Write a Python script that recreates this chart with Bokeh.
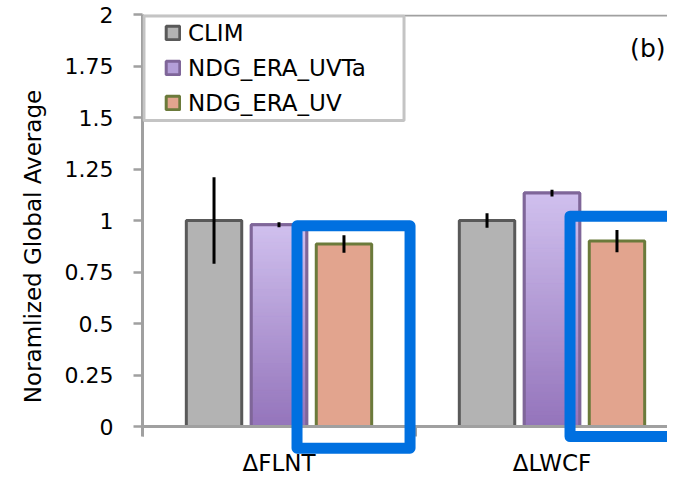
import numpy as np
from bokeh.plotting import figure
from bokeh.models import (FixedTicker, Legend, LegendItem, Label, BoxAnnotation,
                          Span, Range1d)
from bokeh.embed import file_html
from bokeh.resources import INLINE

# ---------------- data ----------------
categories = ["ΔFLNT", "ΔLWCF"]
series = ["CLIM", "NDG_ERA_UVTa", "NDG_ERA_UV"]
clim = [1.0, 1.0]
clim_err = [0.21, 0.035]
uvta = [0.979, 1.133]
uvta_err = [0.012, 0.016]
uv = [0.886, 0.900]
uv_err = [0.042, 0.054]
y_ticks = [0, 0.25, 0.5, 0.75, 1, 1.25, 1.5, 1.75, 2]
y_tick_labels = ["0", "0.25", "0.5", "0.75", "1", "1.25", "1.5", "1.75", "2"]
y_title = "Noramlized Global Average"
panel_label = "(b)"
highlight_series = 2          # NDG_ERA_UV bars are boxed
highlight_top_pad = [0.088, 0.121]
highlight_bottom = [-0.105, -0.049]

# ---------------- style / layout ----------------
FONT = "DejaVu Sans"
W, H = 667, 478
LEFT, TOP = 142, 14
PX_X = 273.0          # pixels per category
PX_Y = 206.0          # pixels per y unit
offsets = [-0.238, 0.0, 0.238]
bw = 0.203
gray_fill, gray_line = "#b3b3b3", "#595959"
pur_top, pur_bot, pur_line = "#d0c0ee", "#9474bb", "#7f6699"
sal_fill, sal_line = "#e2a48e", "#6b7a3b"
axis_col = "#a0a0a0"
blue = "#0070e0"

x_end = -0.5 + (W - LEFT) / PX_X
y_start = 2 - (H - TOP) / PX_Y
tick_len = 10 / PX_Y

p = figure(width=W, height=H, x_range=Range1d(-0.5, x_end), y_range=Range1d(y_start, 2),
           output_backend="svg", toolbar_location=None, x_axis_location=None,
           min_border_left=LEFT, min_border_right=0, min_border_top=TOP, min_border_bottom=0)
p.xgrid.visible = False
p.ygrid.visible = False
p.outline_line_color = None
p.background_fill_color = "white"
p.border_fill_color = "white"

cat_x = np.arange(len(categories), dtype=float)

# y axis
p.yaxis.ticker = FixedTicker(ticks=y_ticks)
p.yaxis.major_label_overrides = {t: l for t, l in zip(y_ticks, y_tick_labels)}
p.yaxis.bounds = (-tick_len, 2)
p.yaxis.axis_line_color = axis_col
p.yaxis.axis_line_width = 3
p.yaxis.major_tick_line_color = axis_col
p.yaxis.major_tick_line_width = 2.5
p.yaxis.major_tick_out = 9
p.yaxis.major_tick_in = 0
p.yaxis.minor_tick_line_color = None
p.yaxis.major_label_text_font = FONT
p.yaxis.major_label_text_font_size = "22px"
p.yaxis.major_label_text_color = "#000000"
p.yaxis.major_label_standoff = 20
p.yaxis.axis_label = y_title
p.yaxis.axis_label_text_font = FONT
p.yaxis.axis_label_text_font_size = "23px"
p.yaxis.axis_label_text_font_style = "normal"
p.yaxis.axis_label_text_color = "#000000"
p.yaxis.axis_label_standoff = 16

# x axis (baseline at y = 0, boundary ticks, category labels)
p.add_layout(Span(location=0, dimension="width", line_color=axis_col, line_width=3))
bounds_x = np.arange(len(categories) + 1) - 0.5
p.segment(x0=bounds_x, y0=np.zeros_like(bounds_x), x1=bounds_x,
          y1=np.full_like(bounds_x, -tick_len), line_color=axis_col, line_width=3)
for xc, c in zip(cat_x, categories):
    p.add_layout(Label(x=xc, y=-36.4 / PX_Y, text=c, text_align="center",
                       text_baseline="middle", text_font=FONT, text_font_size="23px",
                       text_color="#000000"))

# bars
x_clim = cat_x + offsets[0]
x_uvta = cat_x + offsets[1]
x_uv = cat_x + offsets[2]

r_clim = p.vbar(x=x_clim, top=clim, width=bw, bottom=0, fill_color=gray_fill,
                line_color=gray_line, line_width=3)
r_uvta = p.vbar(x=x_uvta, top=uvta, width=bw, bottom=0, fill_color="#b49fd8",
                line_color=pur_line, line_width=3)


def hex2rgb(h):
    h = h.lstrip("#")
    return np.array([int(h[i:i + 2], 16) for i in (0, 2, 4)], dtype=float)


c0, c1 = hex2rgb(pur_bot), hex2rgb(pur_top)
N = 60
sl, sr, sb, st, sc = [], [], [], [], []
for xc, top in zip(x_uvta, uvta):
    for k in range(N):
        f = (k + 0.5) / N
        c = c0 + (c1 - c0) * f
        sl.append(xc - bw / 2)
        sr.append(xc + bw / 2)
        sb.append(top * k / N)
        st.append(top * (k + 1) / N)
        sc.append("#%02x%02x%02x" % tuple(int(round(v)) for v in c))
p.quad(left=sl, right=sr, bottom=sb, top=st, fill_color=sc, line_color=sc, line_width=1)
p.vbar(x=x_uvta, top=uvta, width=bw, bottom=0, fill_color=None,
       line_color=pur_line, line_width=3)

r_uv = p.vbar(x=x_uv, top=uv, width=bw, bottom=0, fill_color=sal_fill,
              line_color=sal_line, line_width=3)

# error bars
for xs, vals, errs in ((x_clim, clim, clim_err), (x_uvta, uvta, uvta_err), (x_uv, uv, uv_err)):
    v = np.array(vals)
    e = np.array(errs)
    p.segment(x0=xs, y0=v - e, x1=xs, y1=v + e, line_color="black", line_width=3)

# top frame line
p.add_layout(Span(location=2 - 1.0 / PX_Y, dimension="width", line_color=axis_col, line_width=2))

# legend box
p.add_layout(BoxAnnotation(left=-0.4945, right=0.458, top=2 - 1.5 / PX_Y, bottom=1.485,
                           fill_color="white", fill_alpha=1.0,
                           line_color="#c4c4c4", line_alpha=1.0, line_width=3))

legend = Legend(items=[LegendItem(label=s, renderers=[r]) for s, r in
                       zip(series, [r_clim, r_uvta, r_uv])],
                location=(22, 358), padding=0, spacing=0, margin=0,
                label_height=35, glyph_width=17, glyph_height=17, label_standoff=7,
                border_line_color=None, background_fill_alpha=0,
                label_text_font=FONT, label_text_font_size="23px",
                label_text_color="#000000")
p.add_layout(legend)

# highlight boxes around the NDG_ERA_UV bars
hx = cat_x + offsets[highlight_series]
for i, (xc, top) in enumerate(zip(hx, uv)):
    p.add_layout(BoxAnnotation(left=xc - 0.172, right=xc + 0.242,
                               top=top + highlight_top_pad[i], bottom=highlight_bottom[i],
                               fill_color=None, fill_alpha=0, line_color=blue,
                               line_alpha=1.0, line_width=11, line_join="round"))

# panel label
p.add_layout(Label(x=-0.5 + (665 - LEFT) / PX_X, y=1.833, text=panel_label, text_align="right",
                   text_baseline="middle", text_font=FONT, text_font_size="25px",
                   text_color="#000000"))

open("out.html", "w").write(file_html(p, INLINE))
